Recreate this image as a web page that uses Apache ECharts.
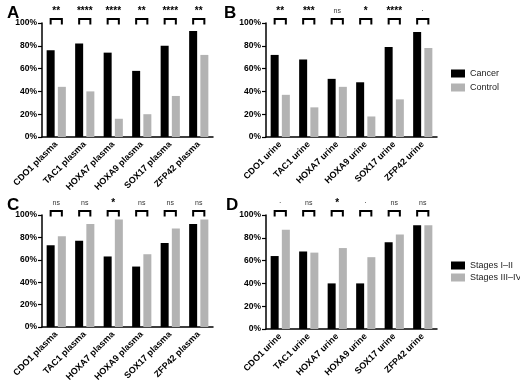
<!DOCTYPE html>
<html>
<head>
<meta charset="utf-8">
<script src="https://cdn.jsdelivr.net/npm/echarts@6/dist/echarts.min.js"></script>
<style>
  html, body { margin: 0; padding: 0; background: #fff; }
  #chart { width: 520px; height: 384px; }
</style>
</head>
<body>
<div id="chart"></div>
<script>
var catsPlasma = ['CDO1 plasma', 'TAC1 plasma', 'HOXA7 plasma', 'HOXA9 plasma', 'SOX17 plasma', 'ZFP42 plasma'];
var catsUrine = ['CDO1 urine', 'TAC1 urine', 'HOXA7 urine', 'HOXA9 urine', 'SOX17 urine', 'ZFP42 urine'];

// A: plasma, cancer vs control
var cancerPlasma = [76, 82, 74, 58, 80, 93];
var controlPlasma = [44, 40, 16, 20, 36, 72];
// B: urine, cancer vs control
var cancerUrine = [72, 68, 51, 48, 79, 92];
var controlUrine = [37, 26, 44, 18, 33, 78];
// C: plasma, by stage
var earlyPlasma = [73, 77, 63, 54, 75, 92];
var latePlasma = [81, 92, 96, 65, 88, 96];
// D: urine, by stage
var earlyUrine = [64, 68, 40, 40, 76, 91];
var lateUrine = [87, 67, 71, 63, 83, 91];

var sigA = ['**', '****', '****', '**', '****', '**'];
var sigB = ['**', '***', 'ns', '*', '****', '·'];
var sigC = ['ns', 'ns', '*', 'ns', 'ns', 'ns'];
var sigD = ['·', 'ns', '*', '·', 'ns', 'ns'];

var FONT = 'Liberation Sans, Arial, sans-serif';
var BAR_W = 8;
var BAR_GAP = 3.2;

var chart = echarts.init(document.getElementById('chart'));

function xAx(cats, gi) {
    return {
        type: 'category', gridIndex: gi, data: cats,
        axisLine: { lineStyle: { color: '#000', width: 1.5 } },
        axisTick: { alignWithLabel: true, length: 4, lineStyle: { color: '#000', width: 1.2 } },
        axisLabel: { rotate: 45, interval: 0, margin: 6, color: '#000', fontFamily: FONT, fontWeight: 'bold', fontSize: 9 }
    };
}
function yAx(gi) {
    return {
        type: 'value', gridIndex: gi, min: 0, max: 100, interval: 20,
        axisLine: { show: true, lineStyle: { color: '#000', width: 1.5 } },
        axisTick: { show: true, length: 4, lineStyle: { color: '#000', width: 1.2 } },
        splitLine: { show: false },
        axisLabel: { formatter: '{value}%', margin: 5, color: '#000', fontFamily: FONT, fontWeight: 'bold', fontSize: 8.5 }
    };
}
function bars(name, data, gi, color) {
    return {
        type: 'bar', name: name, data: data, xAxisIndex: gi, yAxisIndex: gi,
        barWidth: BAR_W, barGap: '40%', itemStyle: { color: color }
    };
}
// significance brackets over each pair
function brackets(sig, gi) {
    return {
        type: 'custom', xAxisIndex: gi, yAxisIndex: gi, silent: true,
        data: sig.map(function (s, i) { return [i, 100]; }),
        renderItem: function (params, api) {
            var p = api.coord([api.value(0), api.value(1)]);
            var half = (BAR_W + BAR_GAP) / 2;
            var y = p[1] - 4;
            var txt = sig[params.dataIndex];
            var isNs = txt === 'ns' || txt === '·';
            return {
                type: 'group',
                children: [{
                    type: 'polyline',
                    shape: { points: [[p[0] - half, y + 5.5], [p[0] - half, y], [p[0] + half, y], [p[0] + half, y + 5.5]] },
                    style: { stroke: '#000', lineWidth: 2, fill: null }
                }, {
                    type: 'text',
                    style: {
                        text: txt, x: p[0], y: isNs ? y - 4 : y - 3,
                        align: 'center', verticalAlign: 'bottom',
                        fontFamily: FONT, fontWeight: isNs ? 'normal' : 'bold',
                        fontSize: isNs ? 7 : 10, fill: isNs ? '#333' : '#000'
                    }
                }]
            };
        }
    };
}
function letter(t, x, y) {
    return { text: t, left: x, top: y, textStyle: { fontFamily: FONT, fontWeight: 'bold', fontSize: 17, color: '#000' } };
}

var legendText = { fontFamily: FONT, fontSize: 9, color: '#222' };

option = {
    backgroundColor: '#fff',
    animation: false,
    title: [letter('A', 2, 0), letter('B', 219, 0), letter('C', 2, 192), letter('D', 221, 192)],
    legend: [{
        orient: 'vertical', left: 446, top: 64, itemWidth: 14, itemHeight: 8, itemGap: 5,
        icon: 'rect', data: ['Cancer', 'Control'], textStyle: legendText
    }, {
        orient: 'vertical', left: 446, top: 256, itemWidth: 14, itemHeight: 8, itemGap: 3,
        icon: 'rect', data: ['Stages I–II', 'Stages III–IV'], textStyle: legendText
    }],
    grid: [
        { left: 42, top: 23, width: 171, height: 114 },
        { left: 266, top: 23, width: 171, height: 114 },
        { left: 42, top: 215, width: 171, height: 114 },
        { left: 266, top: 215, width: 171, height: 114 }
    ],
    xAxis: [xAx(catsPlasma, 0), xAx(catsUrine, 1), xAx(catsPlasma, 2), xAx(catsUrine, 3)],
    yAxis: [yAx(0), yAx(1), yAx(2), yAx(3)],
    series: [
        bars('Cancer', cancerPlasma, 0, '#000'),
        bars('Control', controlPlasma, 0, '#b3b3b3'),
        bars('Cancer', cancerUrine, 1, '#000'),
        bars('Control', controlUrine, 1, '#b3b3b3'),
        bars('Stages I–II', earlyPlasma, 2, '#000'),
        bars('Stages III–IV', latePlasma, 2, '#b3b3b3'),
        bars('Stages I–II', earlyUrine, 3, '#000'),
        bars('Stages III–IV', lateUrine, 3, '#b3b3b3'),
        brackets(sigA, 0),
        brackets(sigB, 1),
        brackets(sigC, 2),
        brackets(sigD, 3)
    ]
};

chart.setOption(option);
</script>
</body>
</html>
